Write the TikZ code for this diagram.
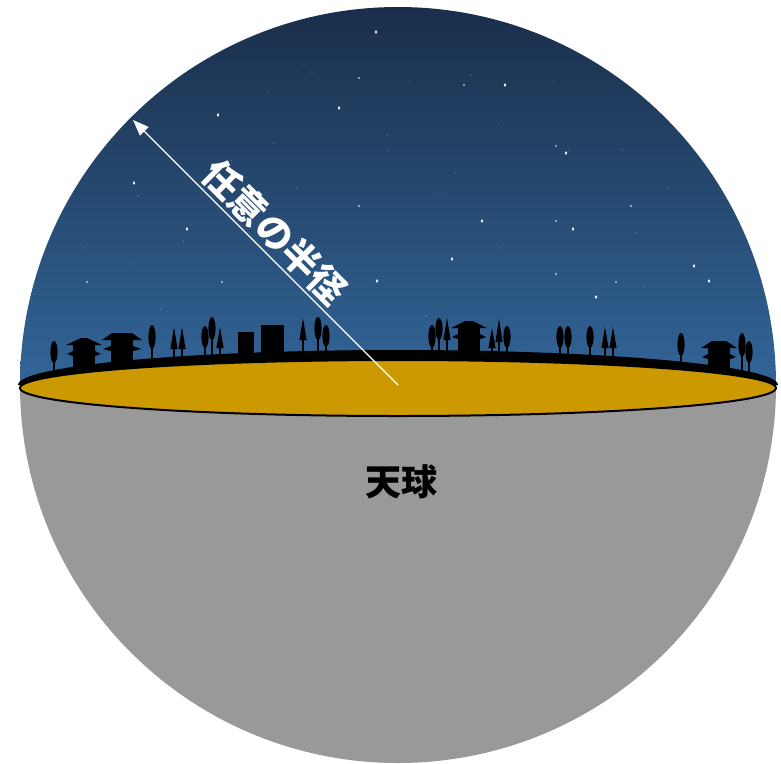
\documentclass[tikz,border=0pt]{standalone}
\usepackage{fontspec}
\newfontfamily\jpfont{Noto Sans CJK JP}
\usetikzlibrary{arrows.meta}
\definecolor{skytop}{RGB}{26,46,74}
\definecolor{skylow}{RGB}{50,101,152}
\definecolor{ground}{RGB}{204,153,0}
\definecolor{sphere}{RGB}{153,153,153}

\begin{document}
\begin{tikzpicture}[
    x=1pt, y=-1pt,
    bright/.style={fill=white},
    faint/.style={fill=white, opacity=0.45},
    shadow/.style={fill=black},
    radius line/.style={draw=white, line width=1.2pt, -{Triangle[length=16pt, width=12pt]}},
    radius text/.style={font=\jpfont\bfseries\fontsize{37}{37}\selectfont, text=white, inner sep=1pt},
    sphere text/.style={font=\jpfont\bfseries\fontsize{36}{36}\selectfont, text=black},
]
\useasboundingbox (0,0) rectangle (781,763);

\begin{scope}
  \clip (398,385) circle (378pt);
  % night sky and lower half of the sphere
  \shade[top color=skytop, bottom color=skylow] (18,7) rectangle (778,385);
  \fill[sphere] (18,385) rectangle (778,770);
  % stars
  \foreach \x/\y in {376/32, 339/108, 218/115, 505/85, 566/153, 134/183, 187/229,
                     482/221, 573/229, 452/259, 694/266, 709/281, 596/297, 377/281}
    \fill[bright] (\x,\y) ellipse [x radius=1.2pt, y radius=1.8pt];
  \foreach \x/\y in {359/78, 464/85, 556/146, 556/221, 631/206, 556/274, 616/282,
                     87/282, 222/282, 359/206}
    \fill[bright] (\x,\y) circle (0.9pt);
  \foreach \x/\y in {304/67, 312/75, 268/93, 387/135, 274/143, 388/150, 231/160,
                     471/75, 410/82, 554/82, 501/120, 569/150, 622/150, 138/196,
                     191/224, 183/241, 85/248, 130/264, 161/309, 455/173, 440/196,
                     667/188, 637/233, 501/248, 644/286, 297/188, 426/316}
    \fill[faint] (\x,\y) circle (0.7pt);
  % town on the horizon: round trees
  \foreach \x/\t/\b in {54/341/363, 152/325/349, 205/326/348, 212/317/340, 318/317/340,
                        326/325/347, 432/325/348, 439/318/340, 507/326/348, 560/326/348,
                        568/326/348, 590/326/348, 681/333/356, 742/333/357, 749/341/363} {
    \fill[shadow] (\x-0.8,\t+10) rectangle (\x+0.8,380);
    \fill[shadow] (\x,{(\t+\b)/2}) ellipse [x radius=3.6pt, y radius={(\b-\t)/2*1pt}];
  }
  % conifers
  \foreach \x/\t/\b in {174/327/349, 182/327/349, 220/327/348, 303/318/340, 447/318/340,
                        492/328/348, 499/319/342, 605/327/348, 613/327/348} {
    \fill[shadow] (\x-0.8,\t+10) rectangle (\x+0.8,380);
    \fill[shadow] (\x-3.6,\b) -- (\x,\t) -- (\x+3.6,\b) -- cycle;
  }
  % pagodas
  \foreach \x/\y/\t/\w in {84/338/3/18, 122/333/10/20, 469/321/4/18, 719/341/7/18} {
    \fill[shadow] (\x-\w,\y+7) -- (\x-\t,\y) -- (\x+\t,\y) -- (\x+\w,\y+7) -- cycle;
    \fill[shadow] (\x-11,\y+6) rectangle (\x+11,385);
    \fill[shadow] (\x-11,\y+13) -- (\x-\w+1,\y+16) -- (\x-11,\y+18) -- cycle;
    \fill[shadow] (\x+11,\y+13) -- (\x+\w-1,\y+16) -- (\x+11,\y+18) -- cycle;
  }
  % blocks
  \fill[shadow] (238,332) rectangle (254,380);
  \fill[shadow] (261,325) rectangle (284,380);
\end{scope}

% horizon rim and ground plane
\fill[shadow] (18,385) arc [start angle=180, end angle=0, x radius=380pt, y radius=35pt] -- cycle;
\filldraw[fill=ground, draw=black, line width=2pt] (398,388) ellipse [x radius=378pt, y radius=28pt];

% radius
\coordinate (origin) at (398,385);
\coordinate (rim) at (133,120);
\draw[radius line] (origin) -- node[radius text, pos=0.52, sloped, above=2pt] (radius) {任意の半径} (rim);

\node[sphere text] (sphere) at (401,482) {天球};
\end{tikzpicture}
\end{document}
